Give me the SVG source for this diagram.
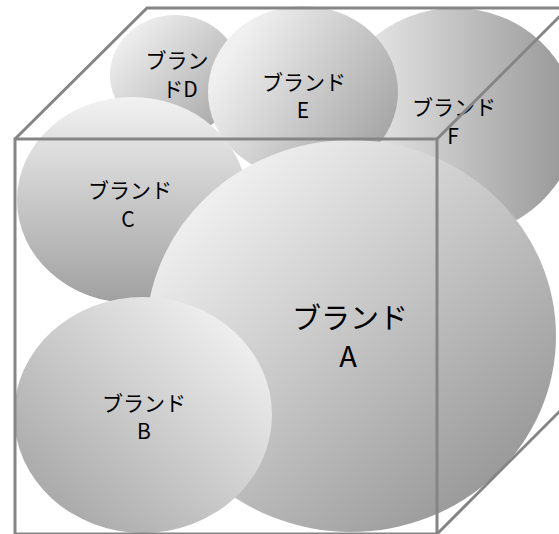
<svg xmlns="http://www.w3.org/2000/svg" width="559" height="534" viewBox="0 0 559 534">
<defs>
<linearGradient id="gA" x1="0.15" y1="0.1" x2="0.9" y2="0.9"><stop offset="0" stop-color="#f2f2f2"/><stop offset="1" stop-color="#959595"/></linearGradient>
<linearGradient id="gB" x1="0.9" y1="0.1" x2="0.1" y2="0.9"><stop offset="0" stop-color="#f2f2f2"/><stop offset="1" stop-color="#a6a6a6"/></linearGradient>
<linearGradient id="gC" x1="0" y1="0" x2="0" y2="1"><stop offset="0" stop-color="#f2f2f2"/><stop offset="1" stop-color="#a0a0a0"/></linearGradient>
<linearGradient id="gD" x1="0.1" y1="0.2" x2="0.9" y2="0.9"><stop offset="0" stop-color="#eeeeee"/><stop offset="1" stop-color="#a8a8a8"/></linearGradient>
<linearGradient id="gE" x1="0.1" y1="0.3" x2="0.95" y2="0.8"><stop offset="0" stop-color="#f0f0f0"/><stop offset="1" stop-color="#a4a4a4"/></linearGradient>
<linearGradient id="gF" x1="0" y1="0" x2="1" y2="0"><stop offset="0" stop-color="#f2f2f2"/><stop offset="1" stop-color="#959595"/></linearGradient>
</defs>
<style>
text{font-family:"Noto Sans CJK JP","Noto Sans",sans-serif;fill:#000;text-anchor:middle;font-size:21px}
.big{font-size:29px}
.edge{fill:none;stroke:#858585;stroke-width:3}
</style>
<g id="brandD"><ellipse cx="175" cy="75" rx="65" ry="60" fill="url(#gD)"/><text x="177" y="68">ブラン</text><text x="180" y="97">ドD</text></g>
<g id="brandF"><ellipse cx="455" cy="122" rx="121" ry="114" fill="url(#gF)"/><text x="454" y="115">ブランド</text><text x="453" y="144">F</text></g>
<g id="brandE"><ellipse cx="303" cy="92" rx="95" ry="86" fill="url(#gE)"/><text x="304" y="90">ブランド</text><text x="303" y="118">E</text></g>
<g id="brandC"><ellipse cx="132" cy="200" rx="115" ry="103" fill="url(#gC)"/><text x="130" y="198">ブランド</text><text x="128" y="227">C</text></g>
<g id="brandA"><ellipse cx="351" cy="336" rx="205" ry="196" fill="url(#gA)"/><text class="big" x="350" y="329">ブランド</text><text class="big" x="348" y="367">A</text></g>
<g id="brandB"><ellipse cx="143" cy="415" rx="129" ry="118" fill="url(#gB)"/><text x="144" y="411">ブランド</text><text x="144" y="439">B</text></g>
<g id="connectors">
<rect class="edge" x="15" y="139" width="422" height="395"/>
<polyline class="edge" points="15,139 147,8 568,8 437,139"/>
<line class="edge" x1="437" y1="534" x2="568" y2="403"/>
</g>
</svg>
